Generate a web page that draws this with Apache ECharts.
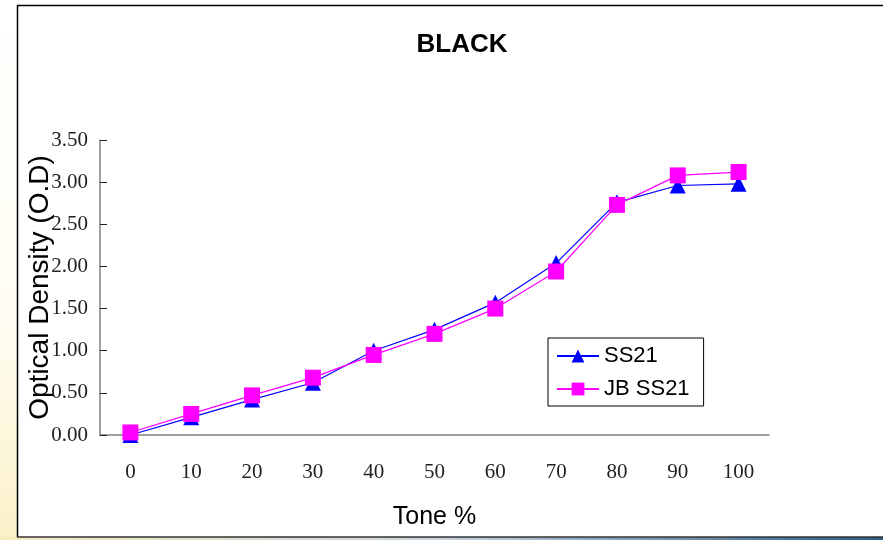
<!DOCTYPE html>
<html><head><meta charset="utf-8">
<script src="https://cdn.jsdelivr.net/npm/echarts@6/dist/echarts.min.js"></script>
<style>html,body{margin:0;padding:0;background:#fff;}#c{width:883px;height:540px;}</style>
</head><body><div id="c"></div>
<script>
const categories = ['0','10','20','30','40','50','60','70','80','90','100'];
const ss21 = [0.00, 0.21, 0.42, 0.62, 1.00, 1.25, 1.57, 2.04, 2.76, 2.96, 2.98];
const jbSs21 = [0.03, 0.25, 0.47, 0.68, 0.95, 1.20, 1.50, 1.94, 2.73, 3.08, 3.12];
const yTicks = { min: 0, max: 3.5, interval: 0.5 };

const chart = echarts.init(document.getElementById('c'));
const serifFont = '"Liberation Serif", "DejaVu Serif", serif';
const sansFont = 'Arial, "Liberation Sans", sans-serif';
chart.setOption({
  animation: false,
  backgroundColor: '#ffffff',
  graphic: [
    { type: 'rect', shape: { x: 0, y: 0, width: 17, height: 540 }, style: { fill: new echarts.graphic.LinearGradient(0, 0, 0, 1, [{offset: 0, color: '#ffffff'}, {offset: 0.6, color: '#fffdf2'}, {offset: 1, color: '#fbf1c8'}]) }, silent: true },
    { type: 'rect', shape: { x: 0, y: 537, width: 883, height: 3 }, style: { fill: new echarts.graphic.LinearGradient(0, 0, 1, 0, [{offset: 0, color: '#f7ecc0'}, {offset: 0.5, color: '#c8d4de'}, {offset: 1, color: '#2a5f8a'}]) }, silent: true },
    { type: 'line', shape: { x1: 17.5, y1: 5.5, x2: 17.5, y2: 537 }, style: { stroke: '#000', lineWidth: 1.5 }, silent: true },
    { type: 'line', shape: { x1: 17, y1: 5.5, x2: 883, y2: 5.5 }, style: { stroke: '#000', lineWidth: 1.5 }, silent: true },
    { type: 'line', shape: { x1: 17, y1: 537, x2: 883, y2: 537 }, style: { stroke: '#333', lineWidth: 1.5 }, silent: true }
  ],
  title: {
    text: 'BLACK', left: 457, top: 27, textAlign: 'center',
    textStyle: { fontFamily: sansFont, fontSize: 26, fontWeight: 'bold', color: '#000' }
  },
  grid: { left: 100, right: 114, top: 140, bottom: 105, containLabel: false, outerBoundsMode: 'none' },
  legend: {
    orient: 'vertical', left: 548, top: 338,
    backgroundColor: '#ffffff', borderColor: '#000', borderWidth: 1,
    padding: [7, 14, 6, 8], itemGap: 11, itemWidth: 42, itemHeight: 16,
    textStyle: { fontFamily: sansFont, fontSize: 22, color: '#000' },
    data: ['SS21', 'JB SS21']
  },
  xAxis: {
    type: 'category', data: categories, boundaryGap: true,
    name: 'Tone %', nameLocation: 'middle', nameGap: 70, nameMoveOverlap: false,
    nameTextStyle: { fontFamily: sansFont, fontSize: 25, color: '#000' },
    axisLine: { lineStyle: { color: '#808080', width: 1.5 } },
    axisTick: { inside: true, length: 7, lineStyle: { color: '#222' } },
    axisLabel: { fontFamily: serifFont, fontSize: 21, color: '#222', margin: 27 },
    splitLine: { show: false }
  },
  yAxis: {
    type: 'value', min: yTicks.min, max: yTicks.max, interval: yTicks.interval,
    name: 'Optical Density (O.D)', nameLocation: 'middle', nameGap: 46, nameMoveOverlap: false,
    nameTextStyle: { fontFamily: sansFont, fontSize: 28, color: '#000' },
    axisLine: { show: true, lineStyle: { color: '#808080', width: 1.5 } },
    axisTick: { show: true, inside: true, length: 7, lineStyle: { color: '#222' } },
    axisLabel: { fontFamily: serifFont, fontSize: 21, color: '#222', margin: 12, formatter: v => v.toFixed(2) },
    splitLine: { show: false }
  },
  series: [
    { name: 'SS21', type: 'line', data: ss21, symbol: 'triangle', symbolSize: 16,
      lineStyle: { color: '#0000ff', width: 1.2 }, itemStyle: { color: '#0000ff' } },
    { name: 'JB SS21', type: 'line', data: jbSs21, symbol: 'rect', symbolSize: 16,
      lineStyle: { color: '#ff00ff', width: 1.2 }, itemStyle: { color: '#ff00ff' } }
  ]
});
</script></body></html>
